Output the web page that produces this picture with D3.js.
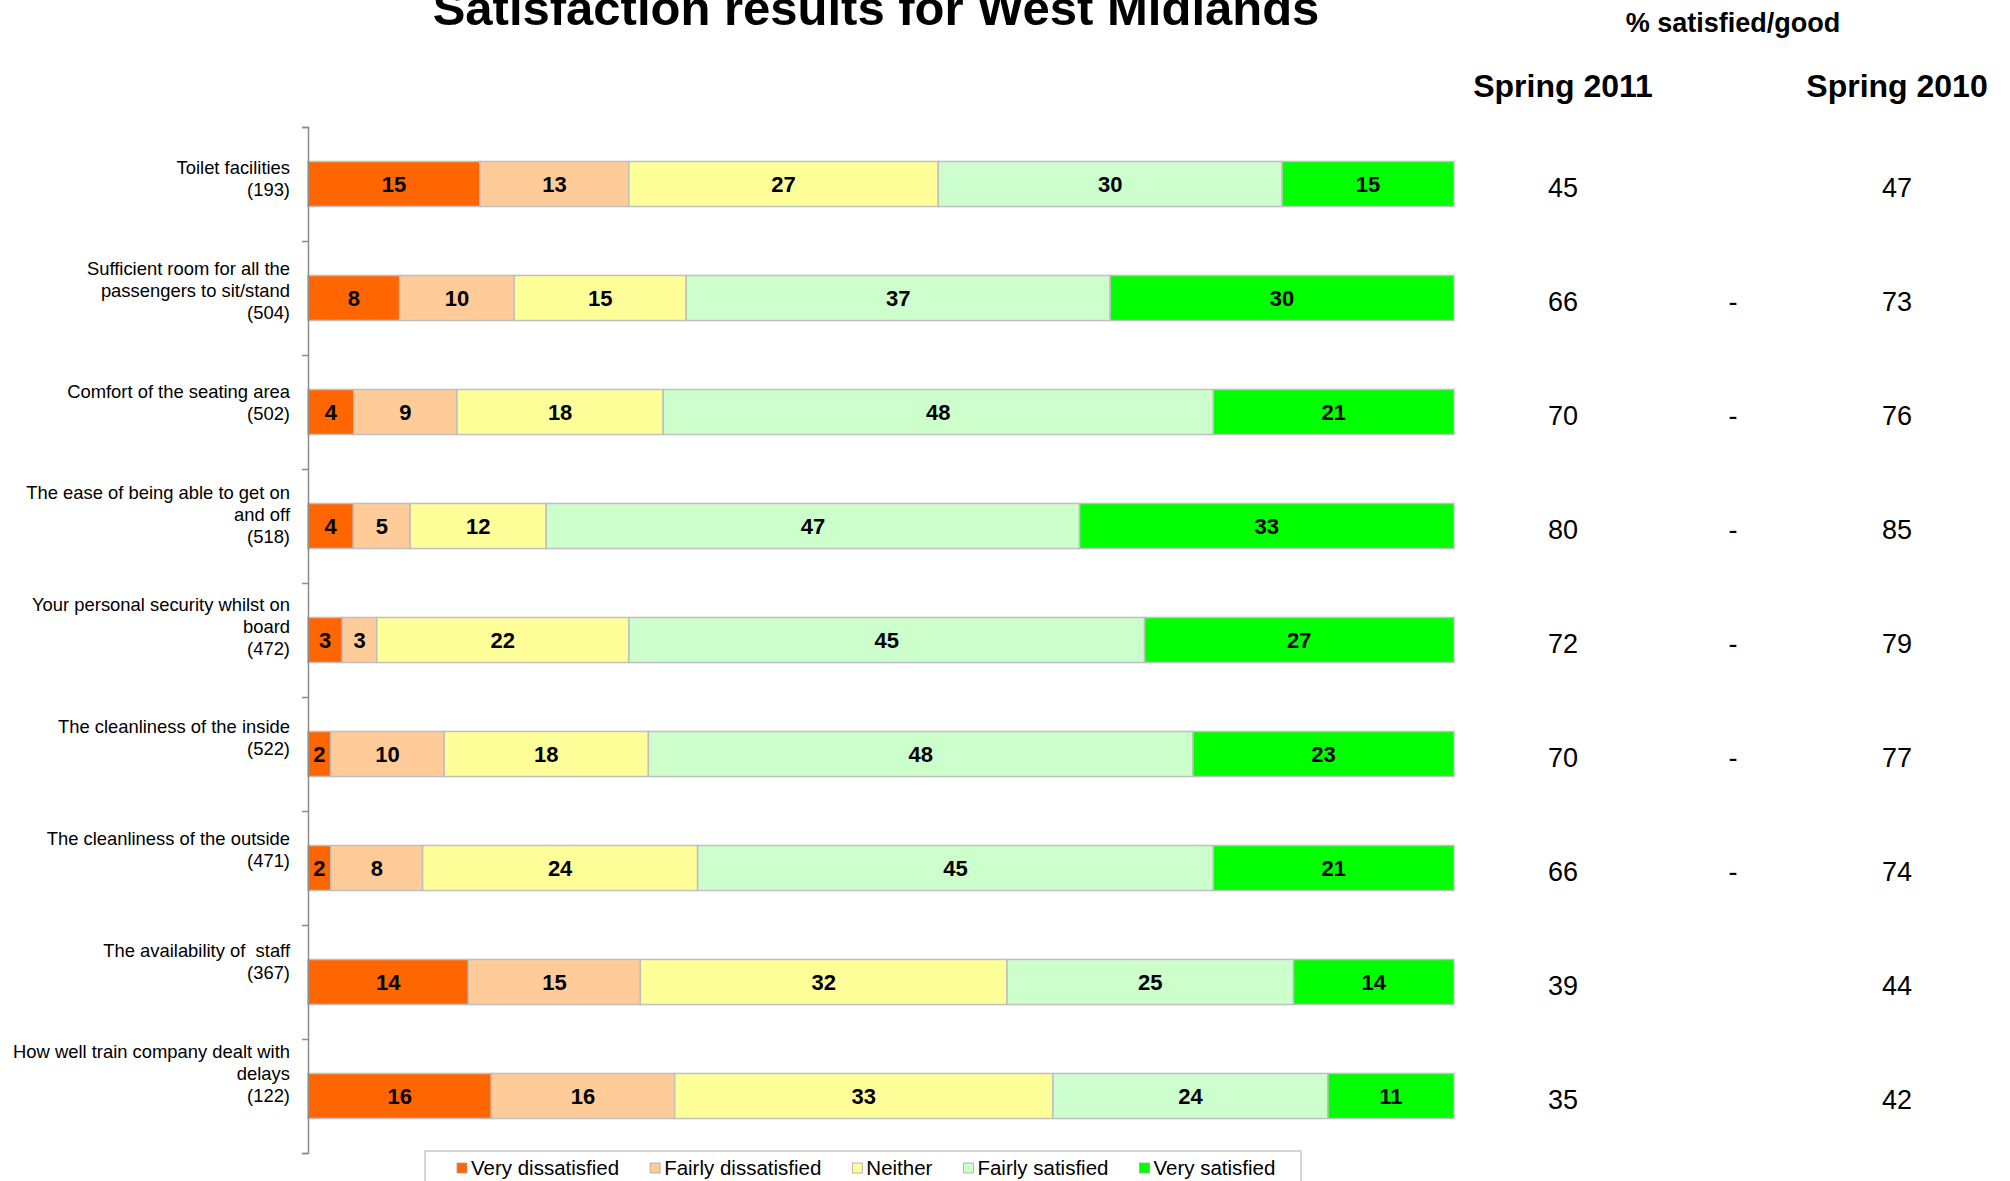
<!DOCTYPE html>
<html>
<head>
<meta charset="utf-8">
<script src="https://cdn.jsdelivr.net/npm/d3@7"></script>
<style>
  body { margin: 0; background: #fff; }
  text { font-family: "Liberation Sans", Arial, sans-serif; fill: #000; }
</style>
</head>
<body>
<script>
// Width and height
var w = 2010;
var h = 1181;

// Categories (line breaks as in the original) and sample sizes
var categories = [
  "Toilet facilities",
  "Sufficient room for all the\npassengers to sit/stand",
  "Comfort of the seating area",
  "The ease of being able to get on\nand off",
  "Your personal security whilst on\nboard",
  "The cleanliness of the inside",
  "The cleanliness of the outside",
  "The availability of  staff",
  "How well train company dealt with\ndelays"
];
var sampleSizes = [193, 504, 502, 518, 472, 522, 471, 367, 122];

// Series
var seriesNames = ["Very dissatisfied", "Fairly dissatisfied", "Neither", "Fairly satisfied", "Very satisfied"];
var seriesColors = ["#ff6600", "#ffcc99", "#ffff99", "#ccffcc", "#00ff00"];

var veryDissatisfied   = [15, 8, 4, 4, 3, 2, 2, 14, 16];
var fairlyDissatisfied = [13, 10, 9, 5, 3, 10, 8, 15, 16];
var neither            = [27, 15, 18, 12, 22, 18, 24, 32, 33];
var fairlySatisfied    = [30, 37, 48, 47, 45, 48, 45, 25, 24];
var verySatisfied      = [15, 30, 21, 33, 27, 23, 21, 14, 11];

// % satisfied/good columns
var spring2011 = [45, 66, 70, 80, 72, 70, 66, 39, 35];
var spring2010 = [47, 73, 76, 85, 79, 77, 74, 44, 42];
var changeMark = ["", "-", "-", "-", "-", "-", "-", "", ""];

// Build rows for the stack
var rows = categories.map(function(c, i) {
  return {
    category: c,
    "Very dissatisfied": veryDissatisfied[i],
    "Fairly dissatisfied": fairlyDissatisfied[i],
    "Neither": neither[i],
    "Fairly satisfied": fairlySatisfied[i],
    "Very satisfied": verySatisfied[i]
  };
});

var stack = d3.stack().keys(seriesNames).offset(d3.stackOffsetExpand);
var series = stack(rows);

// Scales
var xScale = d3.scaleLinear().domain([0, 1]).range([308, 1454]);
var yScale = d3.scaleBand().domain(categories).range([127, 1153])
               .paddingInner(0.605).paddingOuter(0.3025);
var yLabel = d3.scalePoint().domain(categories).range([178.5, 1073.5]);
var color = d3.scaleOrdinal().domain(seriesNames).range(seriesColors);
var yEdge = d3.scaleLinear().domain([0, categories.length]).range([127, 1153]);

var svg = d3.select("body").append("svg")
            .attr("width", w)
            .attr("height", h);

// Title
svg.append("text")
   .attr("x", 876).attr("y", 25)
   .attr("text-anchor", "middle")
   .style("font-size", "49px").style("font-weight", "bold")
   .text("Satisfaction results for West Midlands");

// Right-hand headers
svg.append("text")
   .attr("x", 1733).attr("y", 32)
   .attr("text-anchor", "middle")
   .style("font-size", "27px").style("font-weight", "bold")
   .text("% satisfied/good");

var columns = [
  { name: "Spring 2011", x: 1563, values: spring2011 },
  { name: "", x: 1733, values: changeMark },
  { name: "Spring 2010", x: 1897, values: spring2010 }
];

columns.forEach(function(col) {
  if (col.name) {
    svg.append("text")
       .attr("x", col.x).attr("y", 97)
       .attr("text-anchor", "middle")
       .style("font-size", "32px").style("font-weight", "bold")
       .text(col.name);
  }
  svg.append("g").selectAll("text")
     .data(col.values)
     .join("text")
     .attr("x", col.x)
     .attr("y", function(d, i) { return yScale(categories[i]) + yScale.bandwidth() / 2 + 13; })
     .attr("text-anchor", "middle")
     .style("font-size", "27px")
     .text(function(d) { return d; });
});

// Stacked bars
var groups = svg.append("g").selectAll("g")
                .data(series)
                .join("g")
                .attr("fill", function(d) { return color(d.key); });

groups.selectAll("rect")
      .data(function(d) { return d; })
      .join("rect")
      .attr("x", function(d) { return xScale(d[0]); })
      .attr("y", function(d) { return yScale(d.data.category); })
      .attr("width", function(d) { return xScale(d[1]) - xScale(d[0]); })
      .attr("height", yScale.bandwidth())
      .attr("stroke", "#bfbfbf")
      .attr("stroke-width", 1.5);

// Value labels
groups.selectAll("text")
      .data(function(d) { return d.map(function(p) { return { p: p, key: d.key }; }); })
      .join("text")
      .attr("x", function(d) { return (xScale(d.p[0]) + xScale(d.p[1])) / 2; })
      .attr("y", function(d) { return yScale(d.p.data.category) + yScale.bandwidth() / 2 + 8; })
      .attr("text-anchor", "middle")
      .style("font-size", "22px").style("font-weight", "bold")
      .text(function(d) { return d.p.data[d.key]; });

// Axis line with ticks at category boundaries
var axis = svg.append("g")
   .attr("transform", "translate(308,0)")
   .call(d3.axisLeft(yEdge).tickValues(d3.range(categories.length + 1)).tickSize(6).tickFormat(""));
axis.selectAll("path, line").attr("stroke", "#8c8c8c").attr("stroke-width", 1.5);

// Category labels
var lineH = 22;
categories.forEach(function(c, i) {
  var lines = c.split("\n").concat(["(" + sampleSizes[i] + ")"]);
  var first = yLabel(c) - (lines.length - 1) * lineH / 2 + 6.5;
  var t = svg.append("text")
     .attr("text-anchor", "end")
     .style("font-size", "18.4px")
     .style("white-space", "pre");
  lines.forEach(function(l, j) {
    t.append("tspan").attr("x", 290).attr("y", first + j * lineH).text(l);
  });
});

// Legend
svg.append("rect")
   .attr("x", 425).attr("y", 1151)
   .attr("width", 876).attr("height", 60)
   .attr("fill", "#fff")
   .attr("stroke", "#c8c8c8").attr("stroke-width", 1.5);

var lx = 457;
seriesNames.forEach(function(s) {
  svg.append("rect")
     .attr("x", lx).attr("y", 1163)
     .attr("width", 10).attr("height", 10)
     .attr("fill", color(s))
     .attr("stroke", "#a0a0a0").attr("stroke-width", 0.75);
  var t = svg.append("text")
     .attr("x", lx + 14).attr("y", 1175)
     .style("font-size", "20.5px")
     .text(s);
  lx = lx + 14 + t.node().getComputedTextLength() + 31;
});
</script>
</body>
</html>
